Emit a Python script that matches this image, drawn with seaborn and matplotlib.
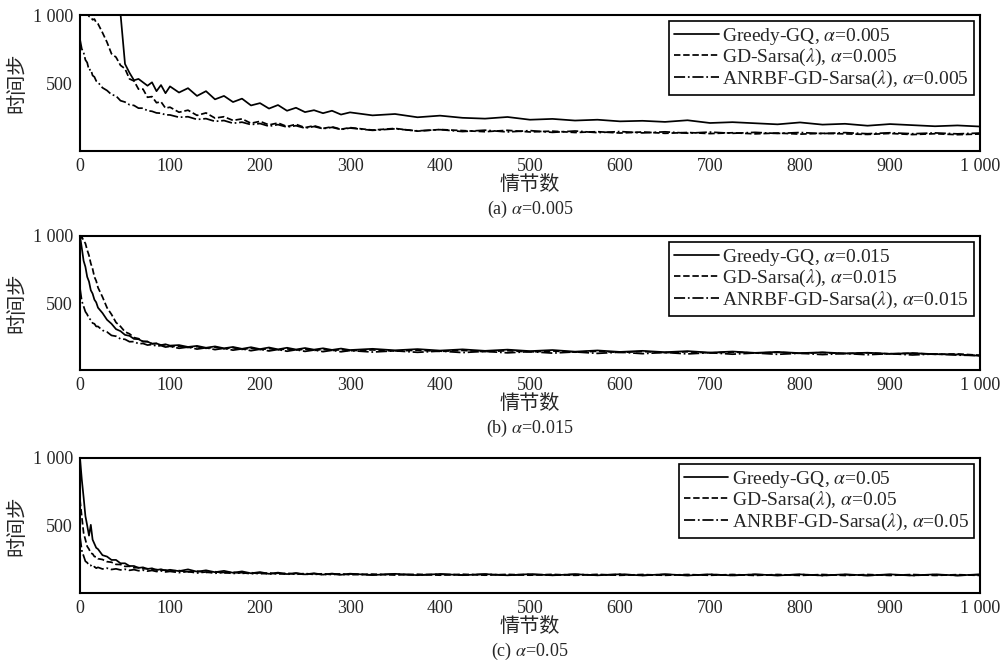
import pandas as pd
import seaborn as sns
import matplotlib.pyplot as plt

# episode grid (dense at the start, sparser later)
episodes = [0, 2, 4, 6, 8, 10, 12, 14, 16, 18, 20,
            25, 30, 35, 40, 45, 50, 55, 60, 65, 70, 75, 80, 85, 90, 95, 100,
            110, 120, 130, 140, 150, 160, 170, 180, 190, 200,
            210, 220, 230, 240, 250, 260, 270, 280, 290, 300,
            325, 350, 375, 400, 425, 450, 475, 500, 525, 550, 575, 600, 625, 650,
            675, 700, 725, 750, 775, 800, 825, 850, 875, 900, 925, 950, 975, 1000]

# (a) alpha = 0.005
gq_005 = [1200, 1200, 1200, 1200, 1200, 1200, 1200, 1200, 1200, 1200, 1200,
          1200, 1200, 1200, 1180, 1010, 640, 575, 520, 530, 505, 480, 505, 440, 485, 425, 475,
          430, 462, 405, 440, 380, 405, 360, 385, 335, 352,
          312, 338, 296, 318, 286, 300, 278, 296, 268, 284,
          262, 272, 248, 260, 244, 238, 250, 230, 236, 224, 230, 218, 222, 214,
          226, 206, 212, 204, 196, 210, 194, 200, 186, 198, 190, 182, 188, 180]
gd_005 = [1060, 1040, 1035, 1010, 1015, 990, 985, 965, 970, 945, 935,
          870, 800, 715, 690, 630, 605, 530, 515, 455, 455, 395, 400, 355, 362, 315, 322,
          285, 300, 262, 280, 242, 252, 225, 236, 204, 218,
          192, 206, 180, 196, 172, 186, 166, 178, 160, 172,
          154, 166, 146, 158, 150, 142, 152, 140, 146, 136, 142, 132, 140, 130,
          136, 128, 134, 126, 132, 124, 130, 126, 122, 129, 121, 127, 120, 125]
anrbf_005 = [820, 750, 725, 670, 650, 595, 600, 555, 545, 515, 505,
             465, 445, 415, 405, 370, 360, 340, 335, 315, 315, 296, 292, 280, 278, 266, 265,
             248, 252, 232, 238, 218, 224, 204, 212, 194, 202,
             182, 194, 176, 186, 168, 180, 164, 174, 158, 169,
             152, 163, 148, 157, 143, 153, 140, 150, 137, 147, 135, 143, 133, 141,
             131, 139, 130, 137, 129, 136, 128, 135, 127, 134, 127, 133, 126, 132]

# (b) alpha = 0.015
gq_015 = [1000, 910, 815, 770, 695, 660, 595, 570, 525, 505, 465,
          425, 375, 345, 305, 290, 262, 255, 232, 230, 212, 212, 196, 198, 186, 192, 182,
          186, 172, 180, 166, 176, 162, 172, 158, 170, 156,
          168, 154, 166, 153, 164, 152, 162, 150, 160, 149,
          158, 147, 156, 145, 154, 143, 152, 141, 149, 137, 146, 135, 143, 133,
          141, 130, 138, 128, 135, 126, 132, 124, 129, 121, 126, 118, 116, 106]
gd_015 = [975, 995, 965, 945, 895, 855, 795, 755, 695, 665, 615,
          545, 465, 415, 355, 325, 285, 270, 242, 234, 214, 212, 196, 198, 185, 188, 176,
          176, 168, 174, 162, 170, 158, 166, 154, 162, 152,
          160, 150, 158, 148, 156, 146, 154, 145, 152, 144,
          150, 141, 148, 139, 146, 137, 144, 135, 142, 133, 140, 131, 138, 129,
          136, 127, 134, 126, 132, 124, 130, 122, 128, 120, 125, 117, 120, 110]
anrbf_015 = [610, 515, 475, 435, 415, 385, 375, 350, 345, 325, 325,
             296, 284, 258, 252, 232, 229, 211, 212, 196, 198, 186, 190, 178, 182, 171, 176,
             162, 171, 156, 166, 152, 162, 148, 158, 144, 155,
             142, 153, 140, 151, 139, 149, 137, 147, 136, 145,
             134, 143, 132, 141, 130, 139, 128, 137, 126, 135, 124, 133, 122, 131,
             120, 129, 118, 127, 117, 125, 115, 123, 114, 122, 112, 120, 111, 108]

# (c) alpha = 0.05
gq_05 = [1000, 840, 710, 570, 500, 425, 505, 395, 365, 335, 325,
         280, 270, 245, 245, 220, 220, 200, 200, 186, 190, 178, 183, 170, 176, 166, 172,
         162, 175, 158, 168, 154, 164, 150, 160, 146, 155,
         142, 151, 140, 148, 138, 146, 136, 144, 135, 143,
         133, 142, 132, 141, 132, 140, 131, 140, 131, 139, 131, 139, 130, 139,
         130, 138, 130, 138, 130, 138, 130, 138, 130, 138, 130, 138, 130, 138]
gd_05 = [690, 565, 445, 395, 345, 325, 295, 290, 270, 268, 254,
         248, 232, 228, 212, 211, 197, 198, 187, 188, 180, 180, 173, 174, 168, 170, 163,
         166, 156, 162, 152, 158, 148, 154, 145, 151, 142,
         149, 140, 147, 138, 145, 137, 143, 136, 142, 135,
         140, 133, 139, 132, 139, 132, 138, 132, 138, 131, 138, 131, 137, 131,
         137, 131, 137, 130, 137, 130, 137, 130, 137, 130, 137, 130, 136, 130]
anrbf_05 = [420, 315, 275, 235, 225, 205, 205, 190, 195, 184, 190,
            178, 184, 174, 179, 171, 176, 168, 173, 165, 169, 162, 167, 159, 164, 156, 160,
            151, 159, 148, 156, 146, 153, 144, 151, 142, 149,
            140, 147, 138, 145, 137, 143, 136, 142, 135, 141,
            134, 140, 133, 139, 133, 139, 132, 138, 132, 138, 132, 138, 131, 137,
            131, 137, 131, 137, 131, 137, 130, 136, 130, 136, 130, 136, 130, 136]

alphas = ['0.005', '0.015', '0.05']
captions = ['(a)', '(b)', '(c)']
panel_data = [(gq_005, gd_005, anrbf_005),
              (gq_015, gd_015, anrbf_015),
              (gq_05, gd_05, anrbf_05)]

sns.set_style('white')
plt.rcParams['font.family'] = ['Liberation Serif', 'Noto Sans CJK SC']
plt.rcParams['mathtext.fontset'] = 'stix'

fig = plt.figure(figsize=(10.08, 6.65), dpi=100)
W, H = 1008, 665
# axes boxes in pixels: left, top, right, bottom
boxes = [(80, 15, 980, 151), (80, 236, 980, 370), (80, 458, 980, 593)]

styles = ['-', '--', '-.']
for i, (l, t, r, b) in enumerate(boxes):
    ax = fig.add_axes([l / W, 1 - b / H, (r - l) / W, (b - t) / H])
    a = alphas[i]
    labels = [r'Greedy-GQ, $\alpha$=' + a,
              r'GD-Sarsa($\lambda$), $\alpha$=' + a,
              r'ANRBF-GD-Sarsa($\lambda$), $\alpha$=' + a]
    for series, ls, lab in zip(panel_data[i], styles, labels):
        df = pd.DataFrame({'episode': episodes, 'steps': series})
        sns.lineplot(data=df, x='episode', y='steps', ax=ax, color='black',
                     linestyle=ls, linewidth=1.25, label=lab)
    ax.set_xlim(0, 1000)
    ax.set_ylim(0, 1000)
    ax.set_xticks([0, 100, 200, 300, 400, 500, 600, 700, 800, 900, 1000])
    ax.set_xticklabels(['0', '100', '200', '300', '400', '500', '600', '700', '800', '900', '1 000'])
    ax.set_yticks([500, 1000])
    ax.set_yticklabels(['500', '1 000'])
    ax.tick_params(direction='in', length=7, width=1.2, labelsize=13, pad=5)
    for sp in ax.spines.values():
        sp.set_linewidth(1.5)
        sp.set_color('black')
    ax.set_xlabel('情节数', fontsize=14.5, labelpad=1)
    ax.set_ylabel('时间步', fontsize=14.5, labelpad=4)
    leg = ax.legend(loc='upper right', fontsize=14, frameon=True, fancybox=False,
                    framealpha=1, edgecolor='black', handlelength=2.3, borderaxespad=0.3,
                    labelspacing=0.02, handletextpad=0.2, borderpad=0.25)
    leg.get_frame().set_linewidth(1.2)
    fig.text(530 / W, 1 - (b + 58) / H, captions[i] + r' $\alpha$=' + a,
             ha='center', va='center', fontsize=13)

fig.savefig('out.png', dpi=100)
